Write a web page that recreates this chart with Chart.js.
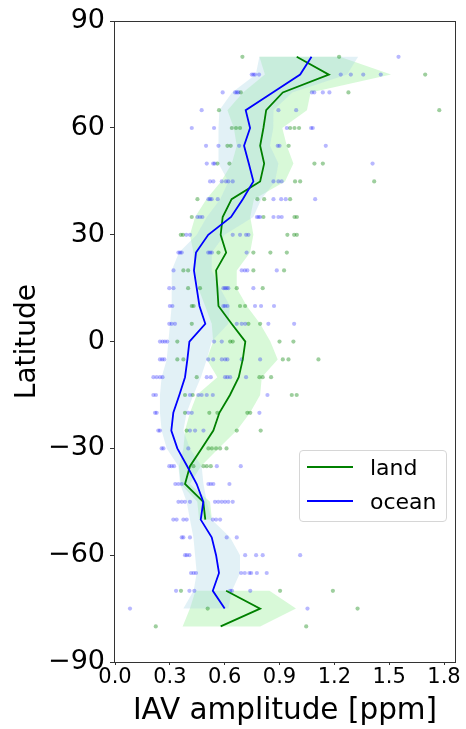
<!doctype html>
<html lang="en">
<head>
<meta charset="utf-8">
<title>IAV amplitude by latitude</title>
<script src="https://cdn.jsdelivr.net/npm/chart.js@4.4.0/dist/chart.umd.min.js"></script>
<style>
  body { margin: 0; background: #fff; font-family: 'DejaVu Sans', sans-serif; }
  .wrap { position: relative; width: 466px; height: 729px; }
  .legend {
    position: absolute; left: 299px; top: 450px; width: 148px; height: 72px;
    box-sizing: border-box; border: 1px solid #d6d6d6; border-radius: 4px;
    background: rgba(255, 255, 255, 0.85); font-size: 22px; color: #000;
  }
  .legend .row { position: absolute; left: 0; height: 26px; display: flex; align-items: center; }
  .legend .sw { width: 46px; height: 0; border-top: 2px solid; margin-left: 7px; margin-right: 17px; }
</style>
</head>
<body>
<div class="wrap">
  <canvas id="iav"></canvas>
  <div class="legend">
    <div class="row" style="top:3px"><span class="sw" style="border-color:#008000"></span>land</div>
    <div class="row" style="top:37px"><span class="sw" style="border-color:#0000ff"></span>ocean</div>
  </div>
</div>
<script>
// latitude bins (5 degrees)
const lats = [80, 75, 70, 65, 60, 55, 50, 45, 40, 35, 30, 25, 20, 15, 10, 5, 0,
  -5, -10, -15, -20, -25, -30, -35, -40, -45, -50, -55, -60, -65, -70, -75, -80];

// mean IAV amplitude [ppm]
const landMean = [0.994, 1.17, 0.918, 0.827, 0.812, 0.794, 0.816, 0.794, 0.638, 0.589, 0.578, 0.608, 0.553, 0.56, 0.566, 0.638, 0.713,
  0.699, 0.677, 0.629, 0.571, 0.538, 0.474, 0.41, 0.383, 0.483, 0.494, null, null, null, 0.608, 0.794, 0.578];
const oceanMean = [1.075, 1.013, 0.863, 0.715, 0.739, 0.706, 0.732, 0.757, 0.699, 0.635, 0.51, 0.443, 0.432, 0.447, 0.462, 0.494, 0.407,
  0.396, 0.383, 0.352, 0.319, 0.308, 0.341, 0.395, 0.447, 0.483, 0.469, 0.529, 0.553, 0.569, 0.535, 0.6, null];

// spread bands
const landLow = [0.79, 0.82, 0.70, 0.615, 0.65, 0.666, 0.639, 0.58, 0.50, 0.438, 0.41, 0.429, 0.438, 0.456, 0.493, 0.529, 0.537,
  0.502, 0.56, 0.447, 0.41, 0.383, 0.374, 0.35, 0.36, 0.45, 0.46, null, null, null, 0.44, 0.41, 0.37];
const landHigh = [1.23, 1.51, 1.07, 1.05, 0.915, 0.94, 0.976, 0.93, 0.76, 0.74, 0.757, 0.739, 0.666, 0.666, 0.721, 0.794, 0.85,
  0.89, 0.803, 0.794, 0.739, 0.666, 0.566, 0.47, 0.41, 0.52, 0.53, null, null, null, 0.845, 0.99, 0.794];
const oceanLow = [0.79, 0.77, 0.64, 0.571, 0.566, 0.566, 0.566, 0.62, 0.575, 0.502, 0.447, 0.35, 0.31, 0.31, 0.31, 0.301, 0.292,
  0.283, 0.255, 0.246, 0.246, 0.255, 0.283, 0.347, 0.356, 0.392, 0.41, 0.429, 0.438, 0.447, 0.43, 0.374, null];
const oceanHigh = [1.33, 1.27, 0.97, 0.867, 0.866, 0.848, 0.894, 0.876, 0.80, 0.757, 0.60, 0.53, 0.529, 0.575, 0.629, 0.62, 0.529,
  0.502, 0.47, 0.429, 0.392, 0.374, 0.41, 0.474, 0.484, 0.502, 0.529, 0.63, 0.684, 0.684, 0.64, 0.62, null];

// individual stations, one list per latitude bin
const landDots = [
  [0.697, 1.226], [1.697], [0.688, 1.277], [0.569, 1.774], [0.639, 0.662, 0.684, 0.958, 0.982, 1.007],
  [0.615, 0.633, 0.95], [0.56, 0.626, 1.091, 1.137], [0.985, 1.013, 1.418], [0.451, 0.779, 0.816, 0.958],
  [0.42, 0.812, 0.982, 0.995], [0.36, 0.372, 0.943, 0.98, 0.995], [0.566, 0.757, 0.85, 0.94],
  [0.374, 0.40, 0.757, 0.925], [0.40, 0.465, 0.666, 0.808], [0.42, 0.43, 0.684, 0.712], [0.42, 0.73, 0.794],
  [0.341, 0.63, 0.644, 0.9, 0.976], [0.341, 0.374, 0.918, 0.949, 1.113], [0.447, 0.79, 0.808, 0.854],
  [0.383, 0.425, 0.967, 0.994], [0.383, 0.516, 0.56, 0.724, 0.74], [0.392, 0.666, 0.797],
  [0.511, 0.53, 0.553, 0.575, 0.61], [0.429, 0.484, 0.502, 0.524], [], [], [], [], [], [],
  [0.361, 0.903, 1.192], [0.507, 1.327], [0.223, 1.046]
];
const oceanDots = [
  [1.551], [0.748, 0.757, 0.766, 0.788, 1.235, 1.29, 1.358, 1.454], [0.589, 0.657, 0.666, 0.675, 1.077, 1.09, 1.137, 1.173],
  [0.474, 0.894, 0.991], [0.42, 0.542, 0.94, 1.073, 1.082], [0.498, 0.566, 0.679, 0.89, 0.9, 1.153],
  [0.502, 0.537, 0.545, 1.409], [0.52, 0.538, 0.584, 0.607, 0.62, 0.644, 0.867, 0.894, 0.912],
  [0.511, 0.52, 0.529, 0.562, 0.867, 0.909, 0.934, 1.095], [0.451, 0.465, 0.478, 0.776, 0.785, 0.794, 0.867, 0.894, 0.912],
  [0.39, 0.41, 0.644, 0.684, 0.717, 0.73], [0.347, 0.356, 0.365, 0.51, 0.52, 0.53, 0.72], [0.32, 0.693, 0.71, 0.724, 0.885],
  [0.297, 0.32, 0.593, 0.602, 0.611, 0.62, 0.757], [0.3, 0.314, 0.593, 0.602, 0.615, 0.766, 0.799, 0.87],
  [0.297, 0.31, 0.328, 0.666, 0.693, 0.712, 0.839, 0.98], [0.246, 0.26, 0.273, 0.286, 0.542, 0.584],
  [0.246, 0.258, 0.27, 0.51, 0.537, 0.584, 0.602, 0.615, 0.693, 0.794],
  [0.21, 0.228, 0.246, 0.26, 0.502, 0.524, 0.602, 0.615, 0.63, 0.717], [0.21, 0.224, 0.41, 0.456, 0.474, 0.502, 0.535, 0.834],
  [0.219, 0.228, 0.401, 0.42, 0.79], [0.237, 0.246, 0.41, 0.438, 0.484], [0.255, 0.265, 0.401],
  [0.297, 0.31, 0.323, 0.557, 0.688], [0.33, 0.347, 0.365, 0.511, 0.524, 0.538, 0.626],
  [0.347, 0.365, 0.383, 0.41, 0.547, 0.565, 0.584, 0.602, 0.62, 0.644], [0.319, 0.337, 0.374, 0.392, 0.535, 0.553, 0.575],
  [0.365, 0.374, 0.41, 0.611, 0.666], [0.383, 0.393, 0.407, 0.712, 0.772, 0.808, 1.013],
  [0.416, 0.43, 0.443, 0.69, 0.71, 0.735, 0.745, 0.776, 0.83], [0.334, 0.407, 0.434, 0.63, 0.64, 0.74], [0.082, 1.053], []
];

const xTickValues = [0, 0.3, 0.6, 0.9, 1.2, 1.5, 1.8];
const yTickValues = [-90, -60, -30, 0, 30, 60, 90];

const toPoints = (vals) => lats.map((lat, i) => ({x: vals[i], y: lat}));
const toDots = (rows) => rows.flatMap((row, i) => row.map(v => ({x: v, y: lats[i]})));

const bands = [
  {low: landLow, high: landHigh, color: 'rgba(144, 238, 144, 0.35)'},
  {low: oceanLow, high: oceanHigh, color: 'rgba(173, 216, 230, 0.35)'}
];

// shaded spread, drawn under the datasets
const bandPlugin = {
  id: 'bands',
  beforeDatasetsDraw(chart) {
    const {ctx, chartArea, scales: {x, y}} = chart;
    ctx.save();
    ctx.beginPath();
    ctx.rect(chartArea.left, chartArea.top, chartArea.width, chartArea.height);
    ctx.clip();
    bands.forEach(b => {
      const runs = [];
      let run = [];
      lats.forEach((lat, i) => {
        if (b.low[i] == null) { if (run.length) runs.push(run); run = []; }
        else run.push(i);
      });
      if (run.length) runs.push(run);
      runs.forEach(r => {
        ctx.beginPath();
        r.forEach((i, k) => {
          const px = x.getPixelForValue(b.low[i]), py = y.getPixelForValue(lats[i]);
          if (k) ctx.lineTo(px, py); else ctx.moveTo(px, py);
        });
        r.slice().reverse().forEach(i => ctx.lineTo(x.getPixelForValue(b.high[i]), y.getPixelForValue(lats[i])));
        ctx.closePath();
        ctx.fillStyle = b.color;
        ctx.fill();
      });
    });
    ctx.restore();
  }
};

// box around the axes
const framePlugin = {
  id: 'frame',
  afterDraw(chart) {
    const {ctx, chartArea: a} = chart;
    ctx.save();
    ctx.strokeStyle = '#333';
    ctx.lineWidth = 1;
    ctx.strokeRect(Math.round(a.left) - 0.5, Math.round(a.top) + 0.5, Math.round(a.width) + 1, Math.round(a.height));
    ctx.restore();
  }
};

Chart.defaults.font.family = "'DejaVu Sans', sans-serif";
Chart.defaults.color = '#000';

new Chart(document.getElementById('iav'), {
  type: 'scatter',
  data: {
    datasets: [
      {label: 'ocean', data: toPoints(oceanMean), showLine: true, borderColor: '#0000ff', borderWidth: 1.8, pointRadius: 0, order: 0},
      {label: 'land', data: toPoints(landMean), showLine: true, borderColor: '#008000', borderWidth: 1.8, pointRadius: 0, order: 1},
      {label: 'ocean stations', data: toDots(oceanDots), backgroundColor: 'rgba(0, 0, 255, 0.28)', borderWidth: 0, pointRadius: 2.1, order: 2},
      {label: 'land stations', data: toDots(landDots), backgroundColor: 'rgba(0, 128, 0, 0.38)', borderWidth: 0, pointRadius: 2.1, order: 3}
    ]
  },
  options: {
    responsive: true,
    maintainAspectRatio: false,
    animation: false,
    events: [],
    layout: {padding: {top: 20, right: 11, left: 0, bottom: 0}},
    plugins: {legend: {display: false}, tooltip: {enabled: false}},
    scales: {
      x: {
        type: 'linear', min: 0, max: 1.86,
        afterBuildTicks: s => { s.ticks = xTickValues.map(v => ({value: v})); },
        afterFit: s => { s.height = 67; },
        grid: {display: true, drawOnChartArea: false, drawTicks: true, tickLength: 3, color: '#333'},
        border: {display: false},
        ticks: {font: {size: 21}, padding: 0, maxRotation: 0, callback: v => Number(v).toFixed(1)},
        title: {display: true, text: 'IAV amplitude [ppm]', font: {size: 29.5}, padding: {top: 0, bottom: 0}}
      },
      y: {
        type: 'linear', min: -90, max: 90,
        afterBuildTicks: s => { s.ticks = yTickValues.map(v => ({value: v})); },
        afterFit: s => { s.width = 115; },
        grid: {display: true, drawOnChartArea: false, drawTicks: true, tickLength: 5, color: '#333'},
        border: {display: false},
        ticks: {font: {size: 27}, padding: 5, callback: v => String(v).replace('-', '\u2212')},
        title: {display: true, text: 'Latitude', font: {size: 28}, padding: {top: 11, bottom: 0}}
      }
    }
  },
  plugins: [bandPlugin, framePlugin]
});
</script>
</body>
</html>
